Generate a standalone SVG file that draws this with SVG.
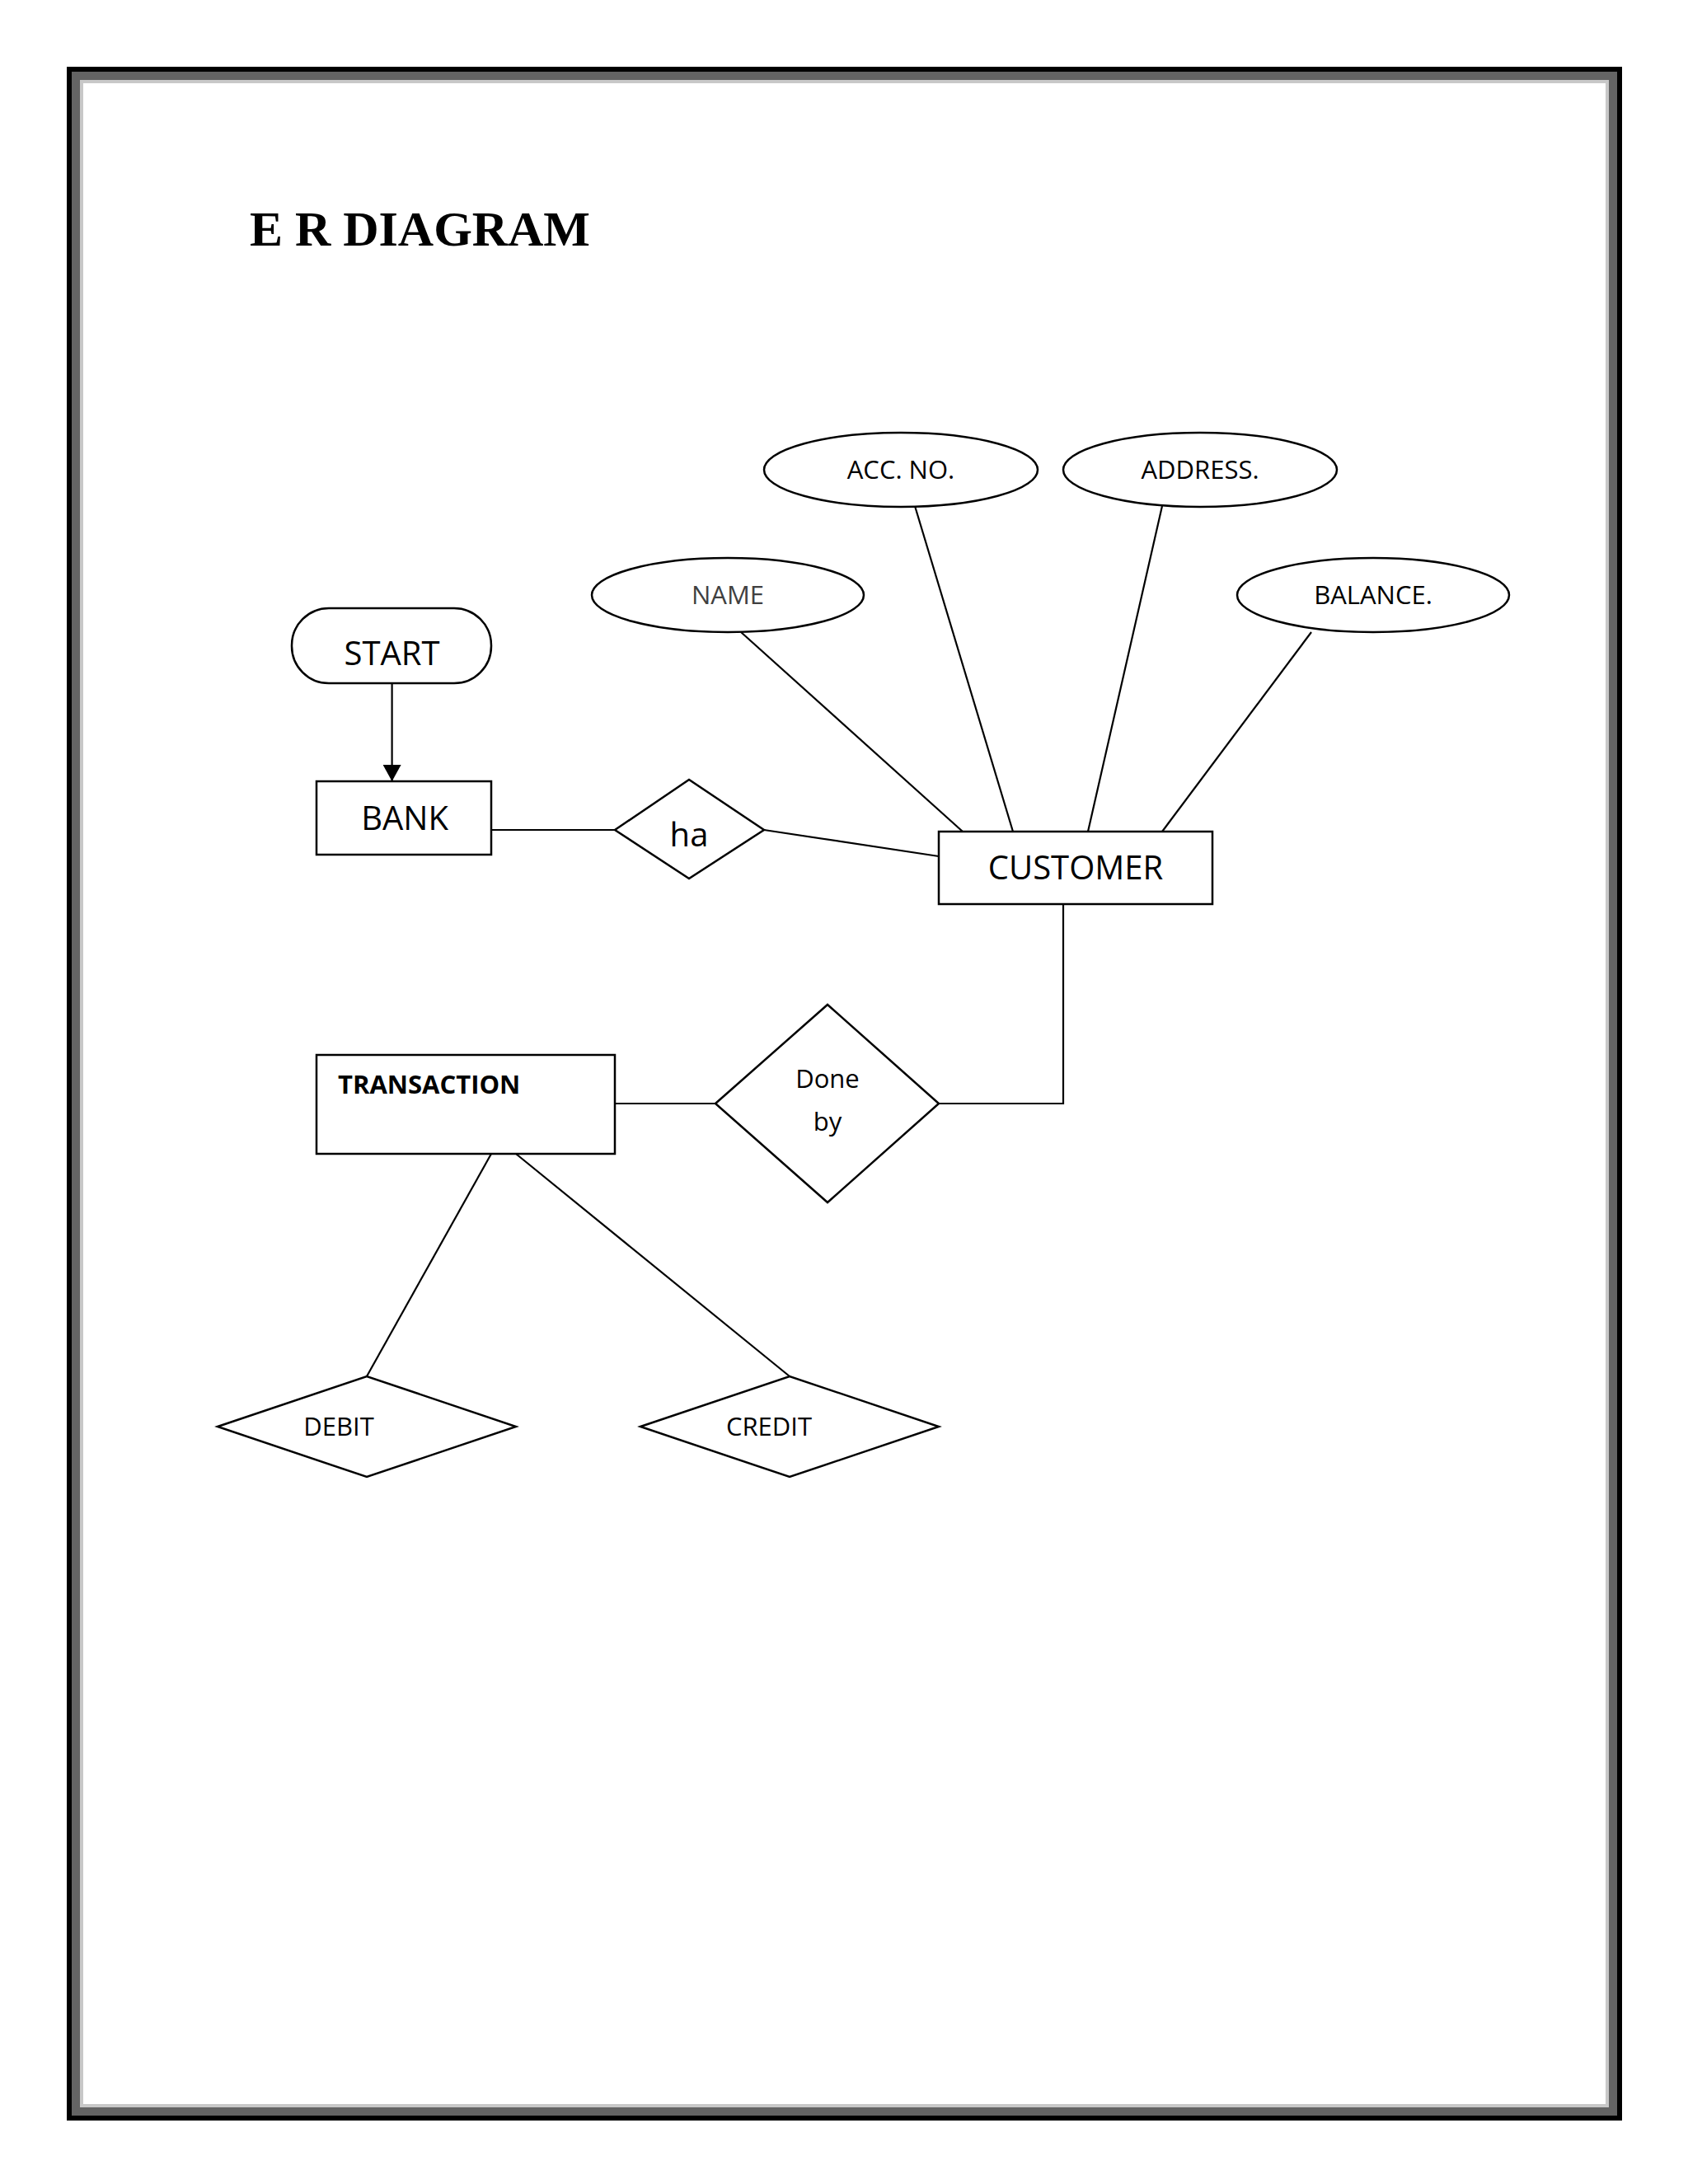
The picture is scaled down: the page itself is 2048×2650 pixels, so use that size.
<svg xmlns="http://www.w3.org/2000/svg" width="2048" height="2650" viewBox="0 0 2048 2650">
<style>
.s{fill:#fff;stroke:#000;stroke-width:2.5}
.l{stroke:#000;stroke-width:2.2;fill:none}
.t{font-family:"Open Sans","Noto Sans",sans-serif;text-anchor:middle;fill:#000}
</style>
<defs><marker id="ah" markerWidth="20" markerHeight="22" refX="20" refY="11" orient="auto" markerUnits="userSpaceOnUse" viewBox="0 0 20 22"><path d="M0,0 L20,11 L0,22 z" fill="#000"/></marker></defs>
<rect x="0" y="0" width="2048" height="2650" fill="#fff"/>
<rect x="84" y="84" width="1881" height="2486" fill="none" stroke="#000" stroke-width="6"/>
<rect x="92" y="92" width="1865" height="2470" fill="none" stroke="#646464" stroke-width="10"/>
<rect x="99" y="99" width="1851" height="2456" fill="none" stroke="#c8c8c8" stroke-width="4"/>
<text x="303" y="298" font-family="Liberation Serif,serif" font-weight="bold" font-size="60" textLength="413">E R DIAGRAM</text>
<g id="connectors">
<line class="l" x1="475.6" y1="829" x2="475.6" y2="948" marker-end="url(#ah)"/>
<line class="l" x1="596" y1="1007" x2="746" y2="1007"/>
<line class="l" x1="927" y1="1007" x2="1139" y2="1039"/>
<line class="l" x1="899" y1="767" x2="1168" y2="1009"/>
<line class="l" x1="1110" y1="614" x2="1229" y2="1009"/>
<line class="l" x1="1410" y1="614" x2="1320" y2="1009"/>
<line class="l" x1="1591" y1="767" x2="1410" y2="1009"/>
<polyline class="l" points="1290,1097 1290,1339 1139,1339"/>
<line class="l" x1="746" y1="1339" x2="868" y2="1339"/>
<line class="l" x1="596" y1="1400" x2="445" y2="1670"/>
<line class="l" x1="626" y1="1400" x2="958" y2="1670"/>
</g>
<g id="start"><rect class="s" x="354" y="738" width="242" height="91" rx="45"/><text class="t" x="475.6" y="807" font-size="40">START</text></g>
<g id="bank"><rect class="s" x="384" y="948" width="212" height="89"/><text class="t" x="491" y="1007" font-size="40">BANK</text></g>
<g id="ha"><polygon class="s" points="746,1007 836,946 927,1007 836,1066"/><text class="t" x="836" y="1027" font-size="40">ha</text></g>
<g id="customer"><rect class="s" x="1139" y="1009" width="332" height="88"/><text class="t" x="1305" y="1067" font-size="40">CUSTOMER</text></g>
<g id="name"><ellipse class="s" cx="883" cy="722" rx="165" ry="45"/><text class="t" x="883" y="733" font-size="31" style="fill:#404040">NAME</text></g>
<g id="accno"><ellipse class="s" cx="1093" cy="570" rx="166" ry="45"/><text class="t" x="1093" y="581" font-size="31">ACC. NO.</text></g>
<g id="address"><ellipse class="s" cx="1456" cy="570" rx="166" ry="45"/><text class="t" x="1456" y="581" font-size="31">ADDRESS.</text></g>
<g id="balance"><ellipse class="s" cx="1666" cy="722" rx="165" ry="45"/><text class="t" x="1666" y="733" font-size="31">BALANCE.</text></g>
<g id="doneby"><polygon class="s" points="868,1339 1004,1219 1139,1339 1004,1459"/><text class="t" x="1004" y="1320" font-size="31">Done</text><text class="t" x="1004" y="1372" font-size="31">by</text></g>
<g id="transaction"><rect class="s" x="384" y="1280" width="362" height="120"/><text x="410" y="1327" font-family="Open Sans,Noto Sans,sans-serif" font-weight="bold" font-size="31">TRANSACTION</text></g>
<g id="debit"><polygon class="s" points="264,1731 445,1670 626,1731 445,1792"/><text class="t" x="411" y="1742" font-size="31">DEBIT</text></g>
<g id="credit"><polygon class="s" points="777,1731 958,1670 1139,1731 958,1792"/><text class="t" x="933" y="1742" font-size="31">CREDIT</text></g>
</svg>
